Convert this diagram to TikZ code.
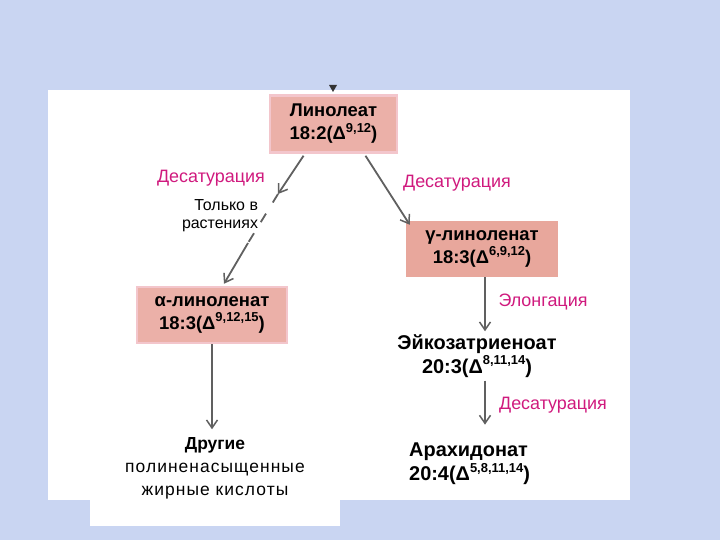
\documentclass[tikz,border=0pt]{standalone}
\usepackage{fontspec}
\setmainfont{Liberation Sans}
\usetikzlibrary{arrows.meta,calc}
\definecolor{bgblue}{HTML}{C9D5F2}
\definecolor{boxfill}{HTML}{EBB0A8}
\definecolor{boxfillb}{HTML}{E8A79C}
\definecolor{boxedge}{HTML}{F3C6CC}
\definecolor{enzyme}{HTML}{D01A7E}
\definecolor{arrowgray}{HTML}{606060}
\newcommand\supr[1]{\raisebox{0.42em}{\fontsize{13}{13}\selectfont #1}}
\tikzset{
  acid/.style={font=\fontsize{18.5}{23}\selectfont\bfseries, align=center, inner sep=0pt},
  bigacid/.style={acid, font=\fontsize{20}{24}\selectfont\bfseries},
  acidbox/.style={acid, fill=boxfill, draw=boxedge, line width=2.5bp, minimum height=57bp},
  enz/.style={font=\fontsize{18}{21}\selectfont, text=enzyme, inner sep=0pt},
  note/.style={font=\fontsize{16}{18}\selectfont, align=right, inner sep=0pt},
  arr/.style={draw=arrowgray, line width=1.8bp, -{Straight Barb[length=8bp,width=11bp,line width=1.5bp]}},
  plain/.style={draw=arrowgray, line width=1.8bp}
}
\begin{document}
\begin{tikzpicture}[x=1bp,y=-1bp]
\useasboundingbox (0,0) rectangle (720,540);
\fill[bgblue] (0,0) rectangle (720,540);
\fill[white] (48,90) rectangle (630,500);
\fill[white] (90,500) rectangle (340,526);

% small tip above the first box
\fill[black!80] (329,85) -- (337,85) -- (333,92) -- cycle;

\node[acidbox, minimum width=127bp] (lin) at (333.5,124) {Линолеат\\18:2(Δ\supr{9,12})};
\node[acidbox, fill=boxfillb, draw=boxfillb, minimum width=150bp, minimum height=54bp] (gam) at (482,249) {γ-линоленат\\18:3(Δ\supr{6,9,12})};
\node[acidbox, minimum width=150bp, minimum height=56bp] (alp) at (212,315) {α-линоленат\\18:3(Δ\supr{9,12,15})};
\node[bigacid] (eic) at (477,356) {Эйкозатриеноат\\20:3(Δ\supr{8,11,14})};
\node[bigacid, align=left, anchor=west] (ara) at (409,464) {Арахидонат\\20:4(Δ\supr{5,8,11,14})};
\node[acid, font=\fontsize{17.5}{23}\selectfont, inner sep=0pt] (oth) at (215,468) {\textbf{Другие}\\\addfontfeatures{LetterSpace=6}полиненасыщенные\\\addfontfeatures{LetterSpace=6}жирные кислоты};

\node[enz] (des1) at (211,178) {Десатурация};
\node[enz] (des2) at (457,183) {Десатурация};
\node[note] (only) at (220,216) {Только в\\растениях};
\node[enz] (elo) at (543,302) {Элонгация};
\node[enz] (des3) at (553,405) {Десатурация};

% connectors
\coordinate (m1) at (278,194);
\coordinate (m2) at (248,243);
\draw[arr] ($(lin.south)+(-30,2)$) -- (m1);
\draw[plain, dash pattern=on 10bp off 13bp] (m1) -- (m2);
\draw[arr] (m2) -- ($(alp.north)+(12,-2)$);
\draw[arr] ($(lin.south)+(32,2)$) -- ($(gam.north west)+(4,4)$);
\draw[arr] (alp.south) -- ($(alp.south)+(0,85)$);
\draw[arr] ($(gam.south)+(3,0)$) -- ($(gam.south)+(3,54)$);
\draw[arr] ($(eic.south)+(8,3)$) -- ($(eic.south)+(8,47)$);
\end{tikzpicture}
\end{document}
